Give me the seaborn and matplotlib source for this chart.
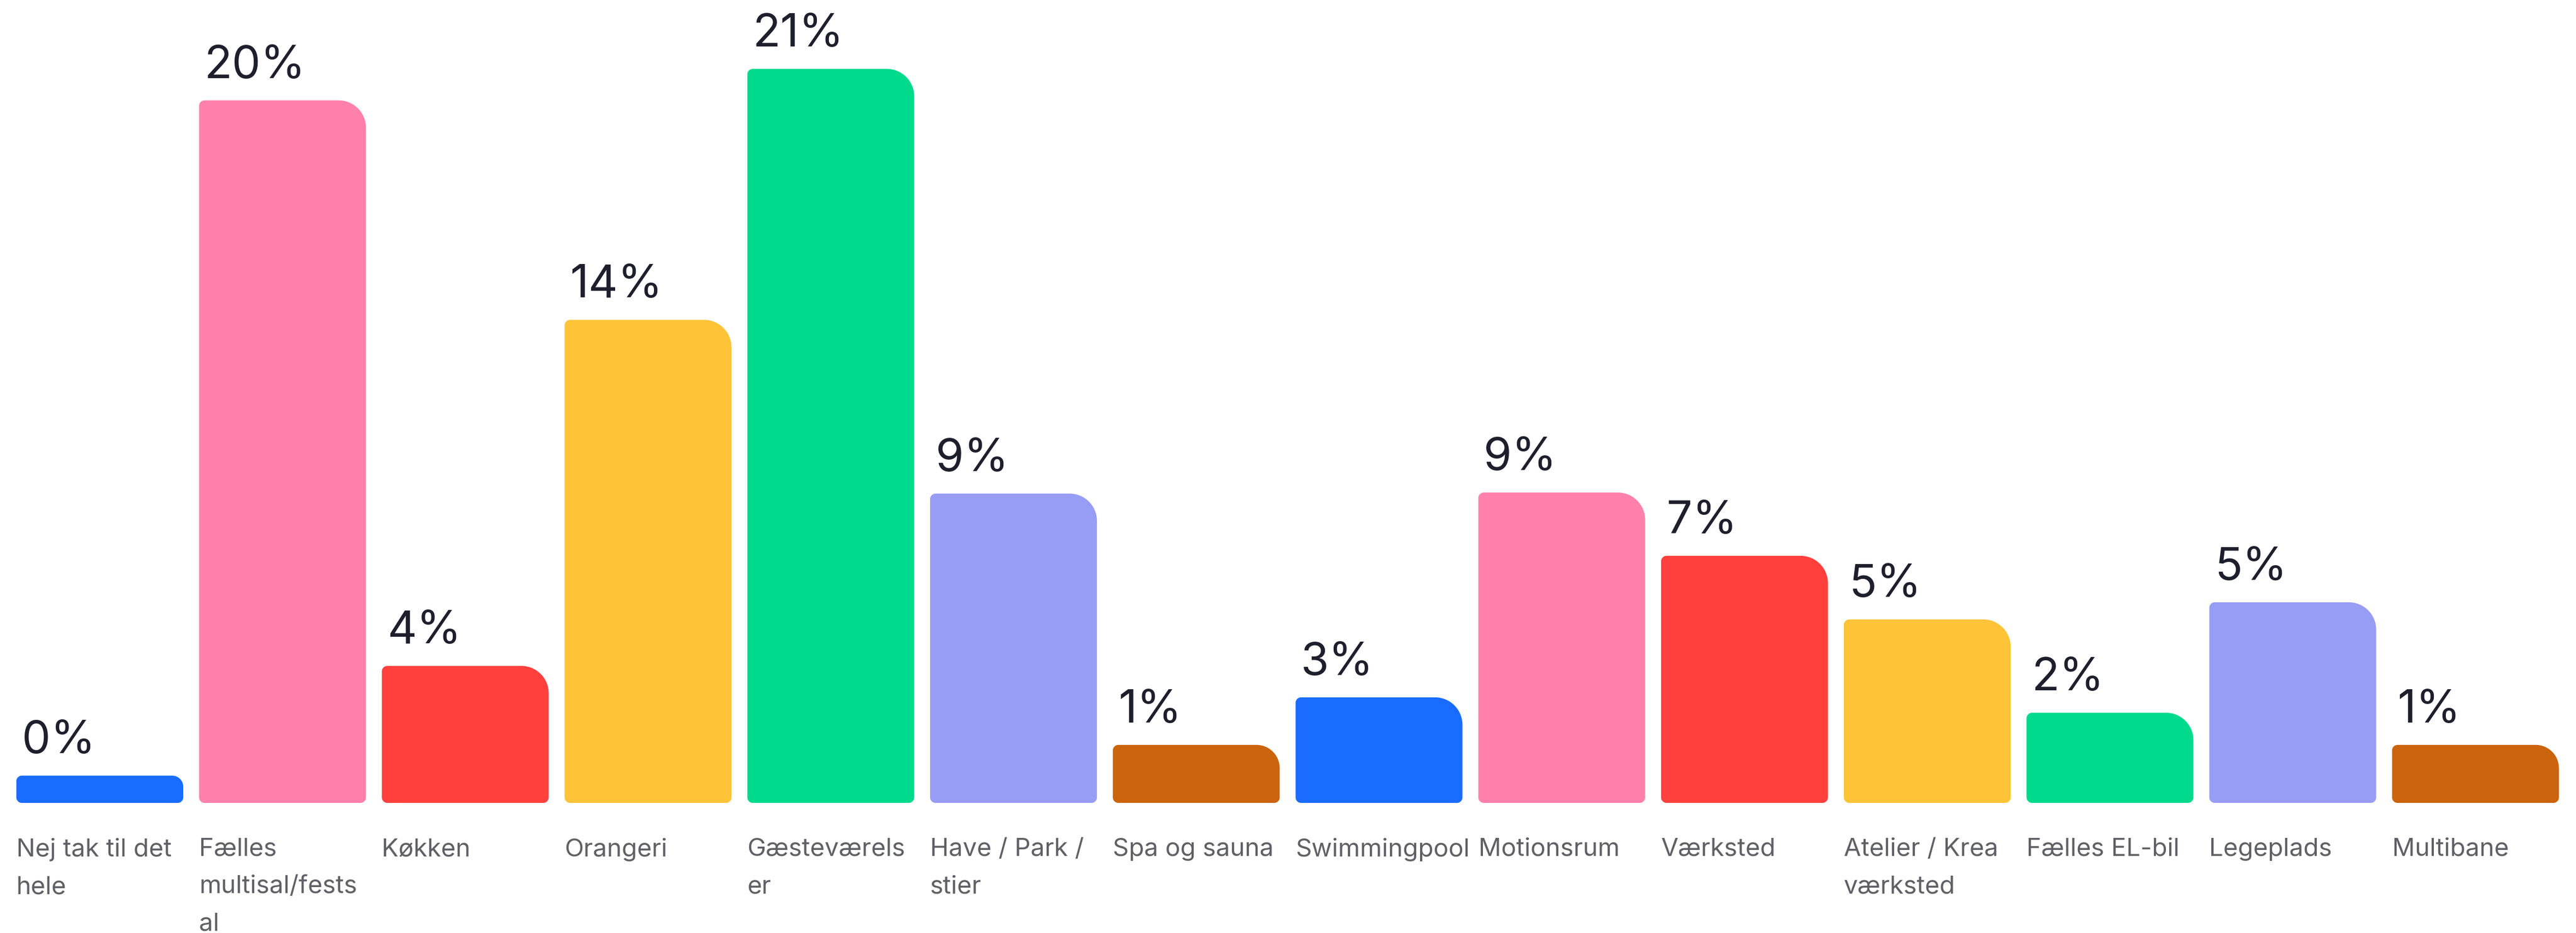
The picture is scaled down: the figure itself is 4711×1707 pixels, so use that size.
import matplotlib
matplotlib.use("Agg")
import matplotlib.pyplot as plt
import seaborn as sns
from matplotlib.path import Path
from matplotlib.patches import PathPatch

# data
categories = ["Nej tak til det\nhele", "Fælles\nmultisal/fests\nal", "Køkken", "Orangeri",
              "Gæsteværels\ner", "Have / Park /\nstier", "Spa og sauna", "Swimmingpool",
              "Motionsrum", "Værksted", "Atelier / Krea\nværksted", "Fælles EL-bil",
              "Legeplads", "Multibane"]
bar_height = [0.78, 20.1, 3.92, 13.82, 21.0, 8.85, 1.66, 3.02, 8.88, 7.07, 5.25, 2.58, 5.74, 1.66]
pct_label = ["0%", "20%", "4%", "14%", "21%", "9%", "1%", "3%", "9%", "7%", "5%", "2%", "5%", "1%"]
colors = ["#196CFF", "#FF80AB", "#FF403D", "#FFC338", "#00DA8C", "#979CF5", "#CB640C"] * 2

sns.set_theme(style="white")
plt.rcParams['font.family'] = ['Inter', 'DejaVu Sans']

W, H = 4711, 1707
fig = plt.figure(figsize=(W / 100, H / 100), dpi=100)
base_px = 1469
ax = fig.add_axes([0, (H - base_px) / H, 1, base_px / H])

sns.barplot(x=list(range(len(categories))), y=bar_height, hue=list(range(len(categories))),
            palette=colors, legend=False, width=0.913, saturation=1, ax=ax)

ax.set_xlim(-0.546, 13.55)
ax.set_ylim(0, base_px / 63.95)
ax.axis("off")

# pixels per data unit
p0 = ax.transData.transform((0, 0))
p1 = ax.transData.transform((1, 1))
sx, sy = p1[0] - p0[0], p1[1] - p0[1]

k = 0.5523


def rounded(x0, y0, w, h, r_tr, r_sm):
    x1, y1 = x0 + w, y0 + h
    hp = h * sy
    r_tr = min(r_tr, 0.4 * hp)
    r_sm = min(r_sm, 0.2 * hp)
    tx, ty = r_tr / sx, r_tr / sy
    bx, by = r_sm / sx, r_sm / sy
    verts = [
        (x0 + bx, y0), (x1 - bx, y0),
        (x1 - bx + k * bx, y0), (x1, y0 + by - k * by), (x1, y0 + by),
        (x1, y1 - ty),
        (x1, y1 - ty + k * ty), (x1 - tx + k * tx, y1), (x1 - tx, y1),
        (x0 + bx, y1),
        (x0 + bx - k * bx, y1), (x0, y1 - by + k * by), (x0, y1 - by),
        (x0, y0 + by),
        (x0, y0 + by - k * by), (x0 + bx - k * bx, y0), (x0 + bx, y0),
        (x0 + bx, y0),
    ]
    codes = [Path.MOVETO, Path.LINETO,
             Path.CURVE4, Path.CURVE4, Path.CURVE4,
             Path.LINETO,
             Path.CURVE4, Path.CURVE4, Path.CURVE4,
             Path.LINETO,
             Path.CURVE4, Path.CURVE4, Path.CURVE4,
             Path.LINETO,
             Path.CURVE4, Path.CURVE4, Path.CURVE4,
             Path.CLOSEPOLY]
    return Path(verts, codes)


bars = list(ax.patches)
for i, b in enumerate(bars):
    x0, y0, w, h = b.get_x(), b.get_y(), b.get_width(), b.get_height()
    fc = b.get_facecolor()
    b.remove()
    ax.add_patch(PathPatch(rounded(x0, y0, w, h, 50, 10), facecolor=fc, edgecolor="none"))

    ax.annotate(pct_label[i], xy=(x0, h), xytext=(7, 29.5), textcoords="offset points",
                ha="left", va="baseline", fontsize=60, color="#1D1F2C")
    ax.annotate(categories[i], xy=(x0, 0), xytext=(0, -46), textcoords="offset points",
                ha="left", va="top", fontsize=33, color="#5F6066", linespacing=1.8,
                annotation_clip=False)

fig.savefig("out.png", dpi=100)
